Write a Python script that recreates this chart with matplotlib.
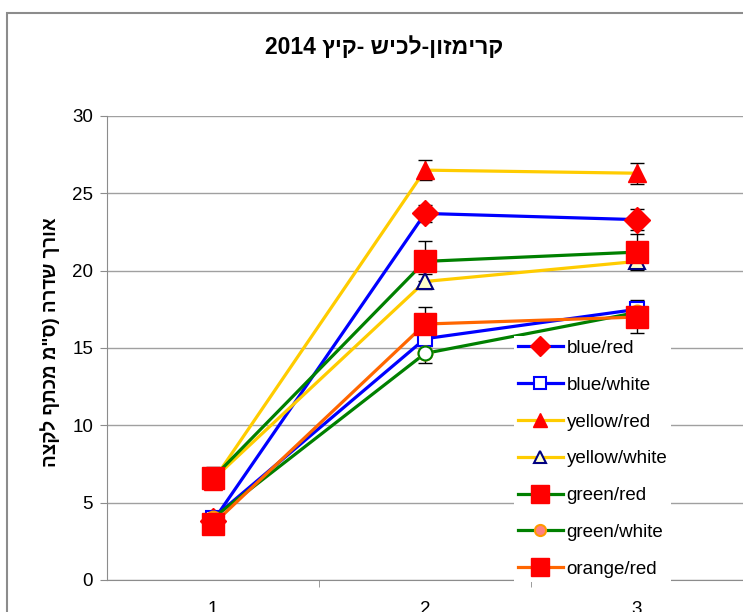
import matplotlib
matplotlib.use("Agg")
import matplotlib.pyplot as plt
from matplotlib.patches import Rectangle

plt.rcParams['font.family'] = ['Liberation Sans', 'DejaVu Sans']

# data
x = [1, 2, 3]
names = ['blue/red', 'blue/white', 'yellow/red', 'yellow/white',
         'green/red', 'green/white', 'orange/red']
blue_red = [3.8, 23.7, 23.3]
blue_white = [4.0, 15.6, 17.5]
yellow_red = [6.4, 26.5, 26.3]
yellow_white = [6.5, 19.3, 20.6]
green_red = [6.6, 20.6, 21.2]
green_white = [4.0, 14.65, 17.3]
orange_red = [3.6, 16.55, 17.0]

err_blue_red = [0.3, 0.55, 0.7]
err_blue_white = [0.3, 0.5, 0.6]
err_yellow_red = [0.3, 0.65, 0.67]
err_yellow_white = [0.3, 0.5, 0.5]
err_green_red = [0.72, 1.3, 1.15]
err_green_white = [0.3, 0.6, 0.6]
err_orange_red = [0.3, 1.08, 1.0]

title = '2014 ' + 'ץיק' + '- ' + 'שיכל' + '-' + 'ןוזמירק'
ylabel = 'הצקל ףתכמ מ"ס) הרדש ךרוא'

series = [
    (blue_red, err_blue_red, dict(color='#0000FF', marker='D', ms=13, mfc='#FF0000', mec='#FF0000')),
    (blue_white, err_blue_white, dict(color='#0000FF', marker='s', ms=10, mfc='white', mec='#0000FF', mew=1.5)),
    (yellow_red, err_yellow_red, dict(color='#FFCC00', marker='^', ms=13, mfc='#FF0000', mec='#FF0000')),
    (yellow_white, err_yellow_white, dict(color='#FFCC00', marker='^', ms=11, mfc='#FFFFCC', mec='#000080', mew=1.5)),
    (green_red, err_green_red, dict(color='#008000', marker='s', ms=15.5, mfc='#FF0000', mec='#FF0000')),
    (green_white, err_green_white, dict(color='#008000', marker='o', ms=10, mfc='#FF8080', mec='#FF9900', mew=1.5)),
    (orange_red, err_orange_red, dict(color='#FF6600', marker='s', ms=15.5, mfc='#FF0000', mec='#FF0000')),
]

fig = plt.figure(figsize=(7.43, 6.12), dpi=100)
ax = fig.add_axes([107 / 743, 1 - 580 / 612, 636 / 743, 464 / 612])

# outer chart frame (cut by image edge)
fig.patches.append(Rectangle((7 / 743, -0.2), 1.2, 1 - 13 / 612 + 0.2,
                             transform=fig.transFigure, fill=False,
                             edgecolor='#8c8c8c', linewidth=1.5, zorder=0))

for i, (vals, err, st) in enumerate(series):
    ax.errorbar(x, vals, yerr=err, fmt='none', ecolor='black', elinewidth=1,
                capsize=5, capthick=1, zorder=2 + i * 0.1)
    ax.plot(x, vals, lw=2.3, label=names[i], zorder=3 + i * 0.1, **st)

# the green/white point at 2 is drawn white with green rim
ax.plot(x[1], green_white[1], marker='o', ms=10, mfc='white', mec='#008000',
        mew=1.5, ls='none', zorder=3.55)

ax.set_xlim(0.5, 3.5)
ax.set_ylim(0, 30)
ax.set_yticks(range(0, 31, 5))
ax.set_xticks(x)
ax.set_xticks([1.5, 2.5, 3.5], minor=True)
ax.tick_params(axis='x', which='major', length=0, pad=15, labelsize=13.5)
ax.tick_params(axis='x', which='minor', length=5, color='#8c8c8c', direction='out')
ax.tick_params(axis='y', length=5, color='#8c8c8c', labelsize=13.5, pad=5)
ax.grid(axis='y', color='#a0a0a0', lw=1)
ax.set_axisbelow(True)
for s in ['top', 'right']:
    ax.spines[s].set_visible(False)
for s in ['left', 'bottom']:
    ax.spines[s].set_color('#8c8c8c')

fig.text(384 / 743, 1 - 47 / 612, title, ha='center', va='center',
         fontsize=16.5, fontweight='bold')
fig.text(50 / 743, 1 - 342 / 612, ylabel, ha='center', va='center',
         rotation=90, fontsize=13.5, fontweight='bold')

leg = ax.legend(loc='upper left', bbox_to_anchor=(514 / 743, 1 - 336 / 612),
                bbox_transform=fig.transFigure, fontsize=13.5, frameon=True,
                facecolor='white', edgecolor='none', framealpha=1,
                handlelength=2.4, handletextpad=0.2, labelspacing=1.05,
                borderpad=0.2, borderaxespad=0.0, fancybox=False,
                markerscale=0.8)
leg.set_zorder(10)

fig.savefig('out.png', dpi=100)
